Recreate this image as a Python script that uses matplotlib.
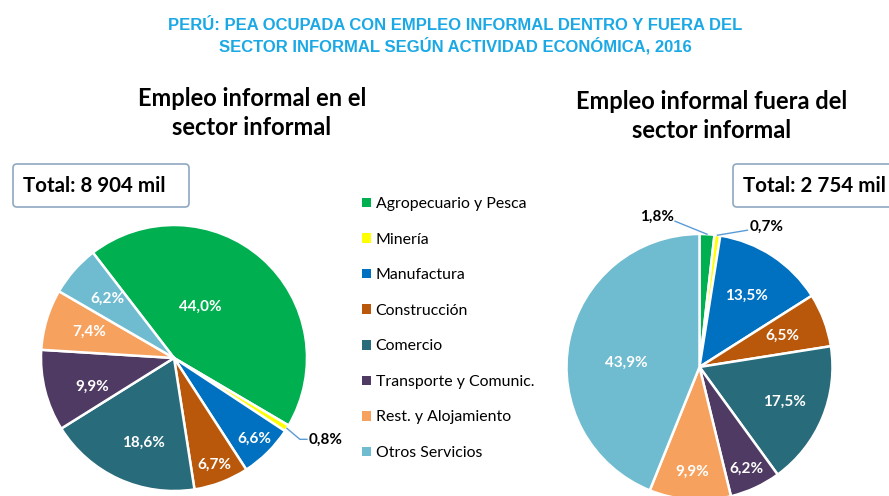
import numpy as np
import matplotlib
matplotlib.use("Agg")
from matplotlib import pyplot as plt
from matplotlib.patches import FancyBboxPatch

# data
sectores = ['Agropecuario y Pesca', 'Minería', 'Manufactura', 'Construcción',
            'Comercio', 'Transporte y Comunic.', 'Rest. y Alojamiento', 'Otros Servicios']
dentro = [44.0, 0.8, 6.6, 6.7, 18.6, 9.9, 7.4, 6.2]
fuera = [1.8, 0.7, 13.5, 6.5, 17.5, 6.2, 9.9, 43.9]
total_dentro = '8 904'
total_fuera = '2 754'
colores = ['#00B050', '#FFFF00', '#0070C0', '#B9580B', '#286B7B', '#4E3A62', '#F6A25E', '#6FBBD0']

W, H = 889, 496
fig = plt.figure(figsize=(W / 100, H / 100), dpi=100)
ax = fig.add_axes([0, 0, 1, 1])
FONT = ['Lato', 'DejaVu Sans']


def Y(y):
    # image pixel row -> axes y
    return H - y


def fmt(v):
    return f'{v:.1f}%'.replace('.', ',')


def draw_pie(vals, cx, cy, r, start, fracs, nudges):
    wedges, _ = ax.pie(vals, colors=colores, startangle=start, counterclock=False,
                       center=(cx, Y(cy)), radius=r,
                       wedgeprops=dict(edgecolor='white', linewidth=1.8))
    for w, v, f, n in zip(wedges, vals, fracs, nudges):
        if f is None:
            continue
        th = np.radians((w.theta1 + w.theta2) / 2 + n)
        ax.text(cx + f * r * np.cos(th), Y(cy) + f * r * np.sin(th), fmt(v),
                color='white', fontsize=11, fontweight='bold', family=FONT,
                ha='center', va='center')
    return wedges


def edge_point(w, cx, cy, r):
    th = np.radians((w.theta1 + w.theta2) / 2)
    return cx + r * np.cos(th), Y(cy) + r * np.sin(th)


LEADER = '#5B9BD5'

# left pie
lc = (174, 358, 133)
wl = draw_pie(dentro, *lc, 127.6,
              [0.43, None, 0.86, 0.86, 0.68, 0.65, 0.67, 0.67],
              [14, 0, 0, 0, 5, 5, 0, 0])
px, py = edge_point(wl[1], *lc)
ax.plot([px, px + 13, px + 20], [py, py - 11, py - 11], color=LEADER, lw=1)
ax.text(px + 22, py - 11, fmt(dentro[1]), fontsize=11, fontweight='bold',
        family=FONT, ha='left', va='center')

# right pie
rc = (699.5, 367, 133)
wr = draw_pie(fuera, *rc, 90,
              [None, None, 0.64, 0.67, 0.69, 0.84, 0.79, 0.55],
              [0, 0, 0, 0, 0, 0, 0, 8])
px, py = edge_point(wr[0], *rc)
ax.plot([px, px - 32], [py, py + 13], color=LEADER, lw=1)
ax.text(px - 33, py + 17, fmt(fuera[0]), fontsize=11, fontweight='bold',
        family=FONT, ha='right', va='center')
px, py = edge_point(wr[1], *rc)
ax.plot([px, px + 30], [py, py + 5], color=LEADER, lw=1)
ax.text(px + 32, py + 8, fmt(fuera[1]), fontsize=11, fontweight='bold',
        family=FONT, ha='left', va='center')

# total boxes
for x0, x1, val in [(13, 189, total_dentro), (733, 905, total_fuera)]:
    ax.add_patch(FancyBboxPatch((x0 + 4, Y(207) + 4), x1 - x0 - 8, 43 - 8,
                                boxstyle='round,pad=4', fc='white', ec='#8FA8C0', lw=1.2,
                                clip_on=False))
    ax.text(x0 + 10, Y(186), f'Total: {val} mil', fontsize=14.8, fontweight='bold',
            family=FONT, ha='left', va='center')

# subtitles
ax.text(252, Y(113), 'Empleo informal en el\nsector informal', fontsize=17,
        fontweight='bold', family=FONT, ha='center', va='center', linespacing=1.3)
ax.text(712, Y(116), 'Empleo informal fuera del\nsector informal', fontsize=17,
        fontweight='bold', family=FONT, ha='center', va='center', linespacing=1.3)

# title
ax.text(455, Y(36), 'PERÚ: PEA OCUPADA CON EMPLEO INFORMAL DENTRO Y FUERA DEL\n'
        'SECTOR INFORMAL SEGÚN ACTIVIDAD ECONÓMICA, 2016',
        fontsize=12, fontweight='bold', color='#1BA9E6', ha='center', va='center',
        family=['Liberation Sans Narrow', 'Liberation Sans'], linespacing=1.25)

# legend
leg = ax.legend(wl, sectores, loc='upper left', bbox_to_anchor=(348 / W, 1 - 183 / H),
                frameon=False, handlelength=0.55, handleheight=0.55, handletextpad=0.3,
                labelspacing=1.36, prop=dict(family=FONT, size=11.4))
for h in leg.legend_handles:
    h.set_edgecolor('none')

ax.set_xlim(0, W)
ax.set_ylim(0, H)
ax.set_aspect('auto')
ax.axis('off')
fig.savefig('out.png', dpi=100)
